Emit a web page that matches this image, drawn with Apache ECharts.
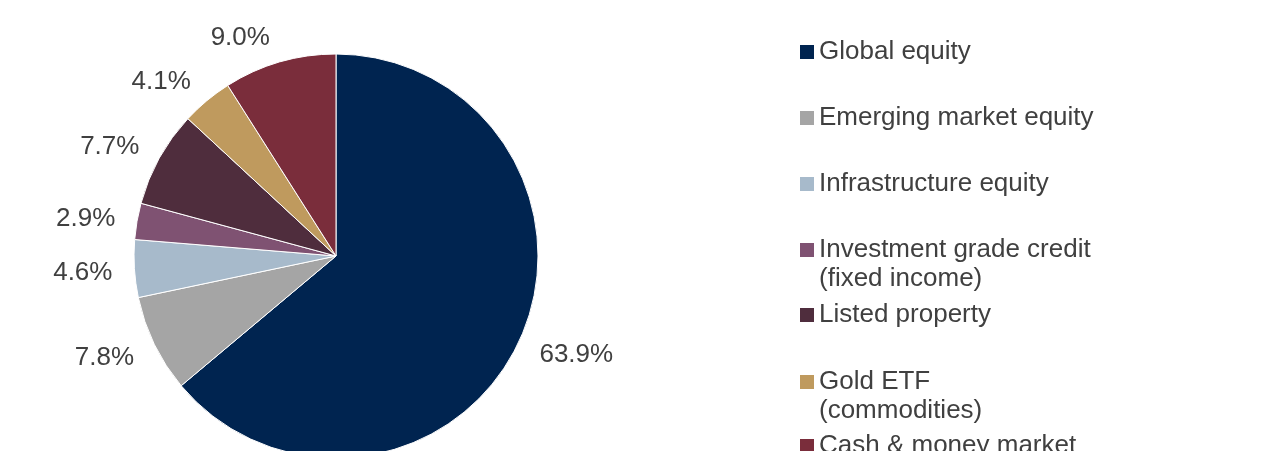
<!DOCTYPE html>
<html>
<head>
<meta charset="utf-8">
<script src="https://cdn.jsdelivr.net/npm/echarts@6/dist/echarts.min.js"></script>
<style>
html,body{margin:0;padding:0;background:#fff;}
#chart{width:1279px;height:451px;}
</style>
</head>
<body>
<div id="chart"></div>
<script>
const categories = [
  'Global equity',
  'Emerging market equity',
  'Infrastructure equity',
  'Investment grade credit\n(fixed income)',
  'Listed property',
  'Gold ETF\n(commodities)',
  'Cash & money market'
];
const values = [63.9, 7.8, 4.6, 2.9, 7.7, 4.1, 9.0];
const colors = ['#002450', '#A5A5A5', '#A7BACB', '#7F5272', '#4F2D3D', '#BF9A5E', '#7A2D3B'];
const legendCenters = [50, 116, 182, 248, 313, 380, 444];

const FS = 26, LH = 29;
const CX = 336, CY = 256, R = 202;

const legends = categories.map((name, i) => {
  const multi = name.indexOf('\n') >= 0;
  return {
    data: [name],
    left: 800,
    top: multi ? legendCenters[i] - (3 * LH) / 2 + 2 : legendCenters[i] - LH / 2 + 2,
    orient: 'vertical',
    itemWidth: 14,
    itemHeight: 14,
    itemGap: 0,
    icon: 'rect',
    padding: 0,
    selectedMode: false,
    itemStyle: { borderWidth: 0 },
    formatter: n => (multi ? '\n' + n : n),
    textStyle: {
      fontFamily: 'Liberation Sans, Arial, sans-serif',
      fontSize: FS,
      lineHeight: LH,
      color: '#404040'
    }
  };
});

const chart = echarts.init(document.getElementById('chart'));
chart.setOption({
  animation: false,
  color: colors,
  legend: legends,
  series: [{
    type: 'pie',
    center: [CX, CY],
    radius: R,
    startAngle: 90,
    clockwise: true,
    itemStyle: { borderColor: '#ffffff', borderWidth: 1 },
    label: {
      show: true,
      position: 'outside',
      formatter: p => p.value.toFixed(1) + '%',
      fontFamily: 'Liberation Sans, Arial, sans-serif',
      fontSize: FS,
      color: '#404040',
      distanceToLabelLine: 5
    },
    labelLine: { show: false, length: 17, length2: 0 },
    labelLayout: p => {
      const r = p.labelRect;
      const dx = r.x + r.width / 2 - CX;
      const dy = r.y + r.height / 2 - CY;
      const d = Math.hypot(dx, dy) || 1;
      return { dy: 11 * dy / d + 2 };
    },
    emphasis: { disabled: true },
    data: categories.map((n, i) => ({ name: n, value: values[i] }))
  }]
});
</script>
</body>
</html>
